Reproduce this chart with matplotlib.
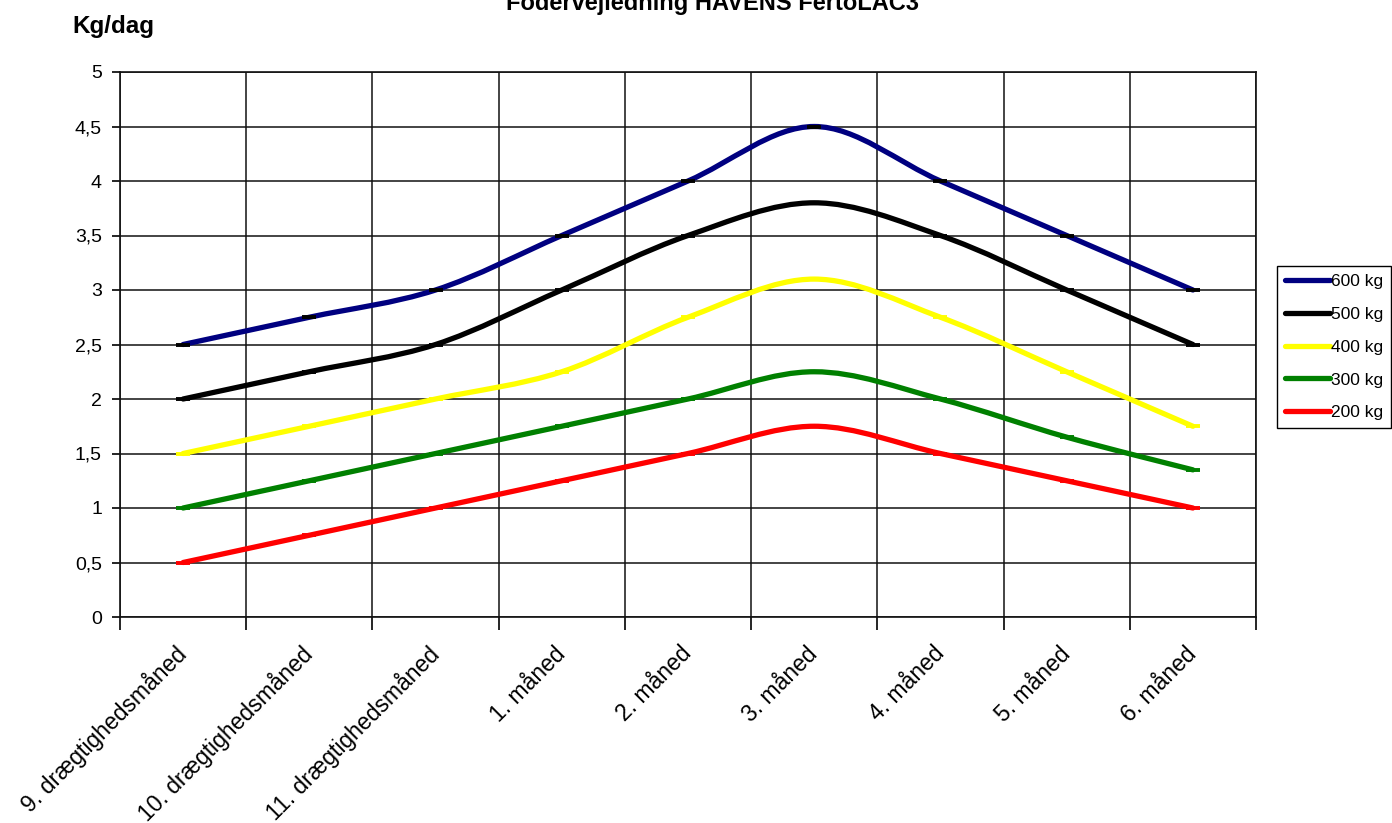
"""
Fodervejledning HAVENS FertoLAC3: daily feed (kg/dag) per body weight class.
"""

import matplotlib

matplotlib.use("Agg")

import matplotlib.pyplot as plt
import numpy as np
from matplotlib.lines import Line2D
from matplotlib.patches import PathPatch
from matplotlib.path import Path
from matplotlib.ticker import FixedLocator, FuncFormatter

plt.rcParams["font.family"] = ["Liberation Sans", "DejaVu Sans"]

months = [
    "9. drægtighedsmåned",
    "10. drægtighedsmåned",
    "11. drægtighedsmåned",
    "1. måned",
    "2. måned",
    "3. måned",
    "4. måned",
    "5. måned",
    "6. måned",
]

kg_600 = [2.5, 2.75, 3.0, 3.5, 4.0, 4.5, 4.0, 3.5, 3.0]
kg_500 = [2.0, 2.25, 2.5, 3.0, 3.5, 3.8, 3.5, 3.0, 2.5]
kg_400 = [1.5, 1.75, 2.0, 2.25, 2.75, 3.1, 2.75, 2.25, 1.75]
kg_300 = [1.0, 1.25, 1.5, 1.75, 2.0, 2.25, 2.0, 1.65, 1.35]
kg_200 = [0.5, 0.75, 1.0, 1.25, 1.5, 1.75, 1.5, 1.25, 1.0]

series_labels = ["600 kg", "500 kg", "400 kg", "300 kg", "200 kg"]
series_values = [kg_600, kg_500, kg_400, kg_300, kg_200]
series_colors = ["#000080", "#000000", "#FFFF00", "#008000", "#FF0000"]
marker_colors = ["#000000", "#000000", "#FFFF00", "#008000", "#FF0000"]

y_ticks = [0, 0.5, 1, 1.5, 2, 2.5, 3, 3.5, 4, 4.5, 5]


def smooth_path(xs, ys):
    # Excel-style smoothed line: cubic bezier segments (Catmull-Rom tangents)
    pts = np.column_stack([xs, ys]).astype(float)
    ext = np.vstack([pts[0], pts, pts[-1]])
    verts = [pts[0]]
    codes = [Path.MOVETO]
    for i in range(len(pts) - 1):
        p0, p1, p2, p3 = ext[i], ext[i + 1], ext[i + 2], ext[i + 3]
        verts += [p1 + (p2 - p0) / 6, p2 - (p3 - p1) / 6, p2]
        codes += [Path.CURVE4] * 3
    return Path(verts, codes)


fig = plt.figure(figsize=(13.92, 8.23), dpi=100)
ax = fig.add_axes([120 / 1392, 1 - 617 / 823, (1256 - 120) / 1392, (617 - 72) / 823])

x = np.arange(len(months))
for vals, color, mcolor in zip(series_values, series_colors, marker_colors):
    patch = PathPatch(
        smooth_path(x, vals),
        facecolor="none",
        edgecolor=color,
        linewidth=3.8,
        capstyle="round",
        joinstyle="round",
        zorder=3,
    )
    ax.add_patch(patch)
    ax.plot(x, vals, linestyle="none", marker="_", markersize=10, mew=2.8,
            color=mcolor, zorder=4)

ax.set_xlim(-0.5, len(months) - 0.5)
ax.set_ylim(0, 5)

ax.set_xticks(x)
ax.set_xticklabels(months, rotation=45, ha="right", va="center",
                   rotation_mode="anchor", fontsize=16.5)
ax.xaxis.set_minor_locator(FixedLocator(np.arange(-0.5, len(months), 1.0)))
ax.tick_params(axis="x", which="major", length=0, pad=24)
ax.tick_params(axis="x", which="minor", length=9, width=1.2, direction="out")
ax.grid(axis="x", which="minor", color="#111111", linewidth=1.1)

ax.set_yticks(y_ticks)
ax.yaxis.set_major_formatter(FuncFormatter(lambda v, _: f"{v:g}".replace(".", ",")))
ax.tick_params(axis="y", length=6, width=1.2, direction="out", labelsize=14, pad=7)
ax.grid(axis="y", which="major", color="#111111", linewidth=1.1)
ax.set_axisbelow(True)

for spine in ax.spines.values():
    spine.set_color("#111111")
    spine.set_linewidth(1.2)

fig.text(713 / 1392, 1 - 10 / 823, "Fodervejledning HAVENS FertoLAC3",
         ha="center", va="baseline", fontsize=17, fontweight="bold")
fig.text(72 / 1392, 1 - 33 / 823, "Kg/dag", ha="left", va="baseline",
         fontsize=17.5, fontweight="bold")

handles = [Line2D([], [], color=c, linewidth=3.8, solid_capstyle="round")
           for c in series_colors]
fig.legend(
    handles,
    series_labels,
    loc="upper left",
    bbox_to_anchor=(1277 / 1392, 1 - 266 / 823),
    fontsize=12.5,
    frameon=True,
    fancybox=False,
    edgecolor="black",
    framealpha=1,
    handlelength=2.6,
    handletextpad=0.05,
    labelspacing=1.02,
    borderpad=0.45,
    borderaxespad=0,
)

fig.savefig("out.png", dpi=100)
